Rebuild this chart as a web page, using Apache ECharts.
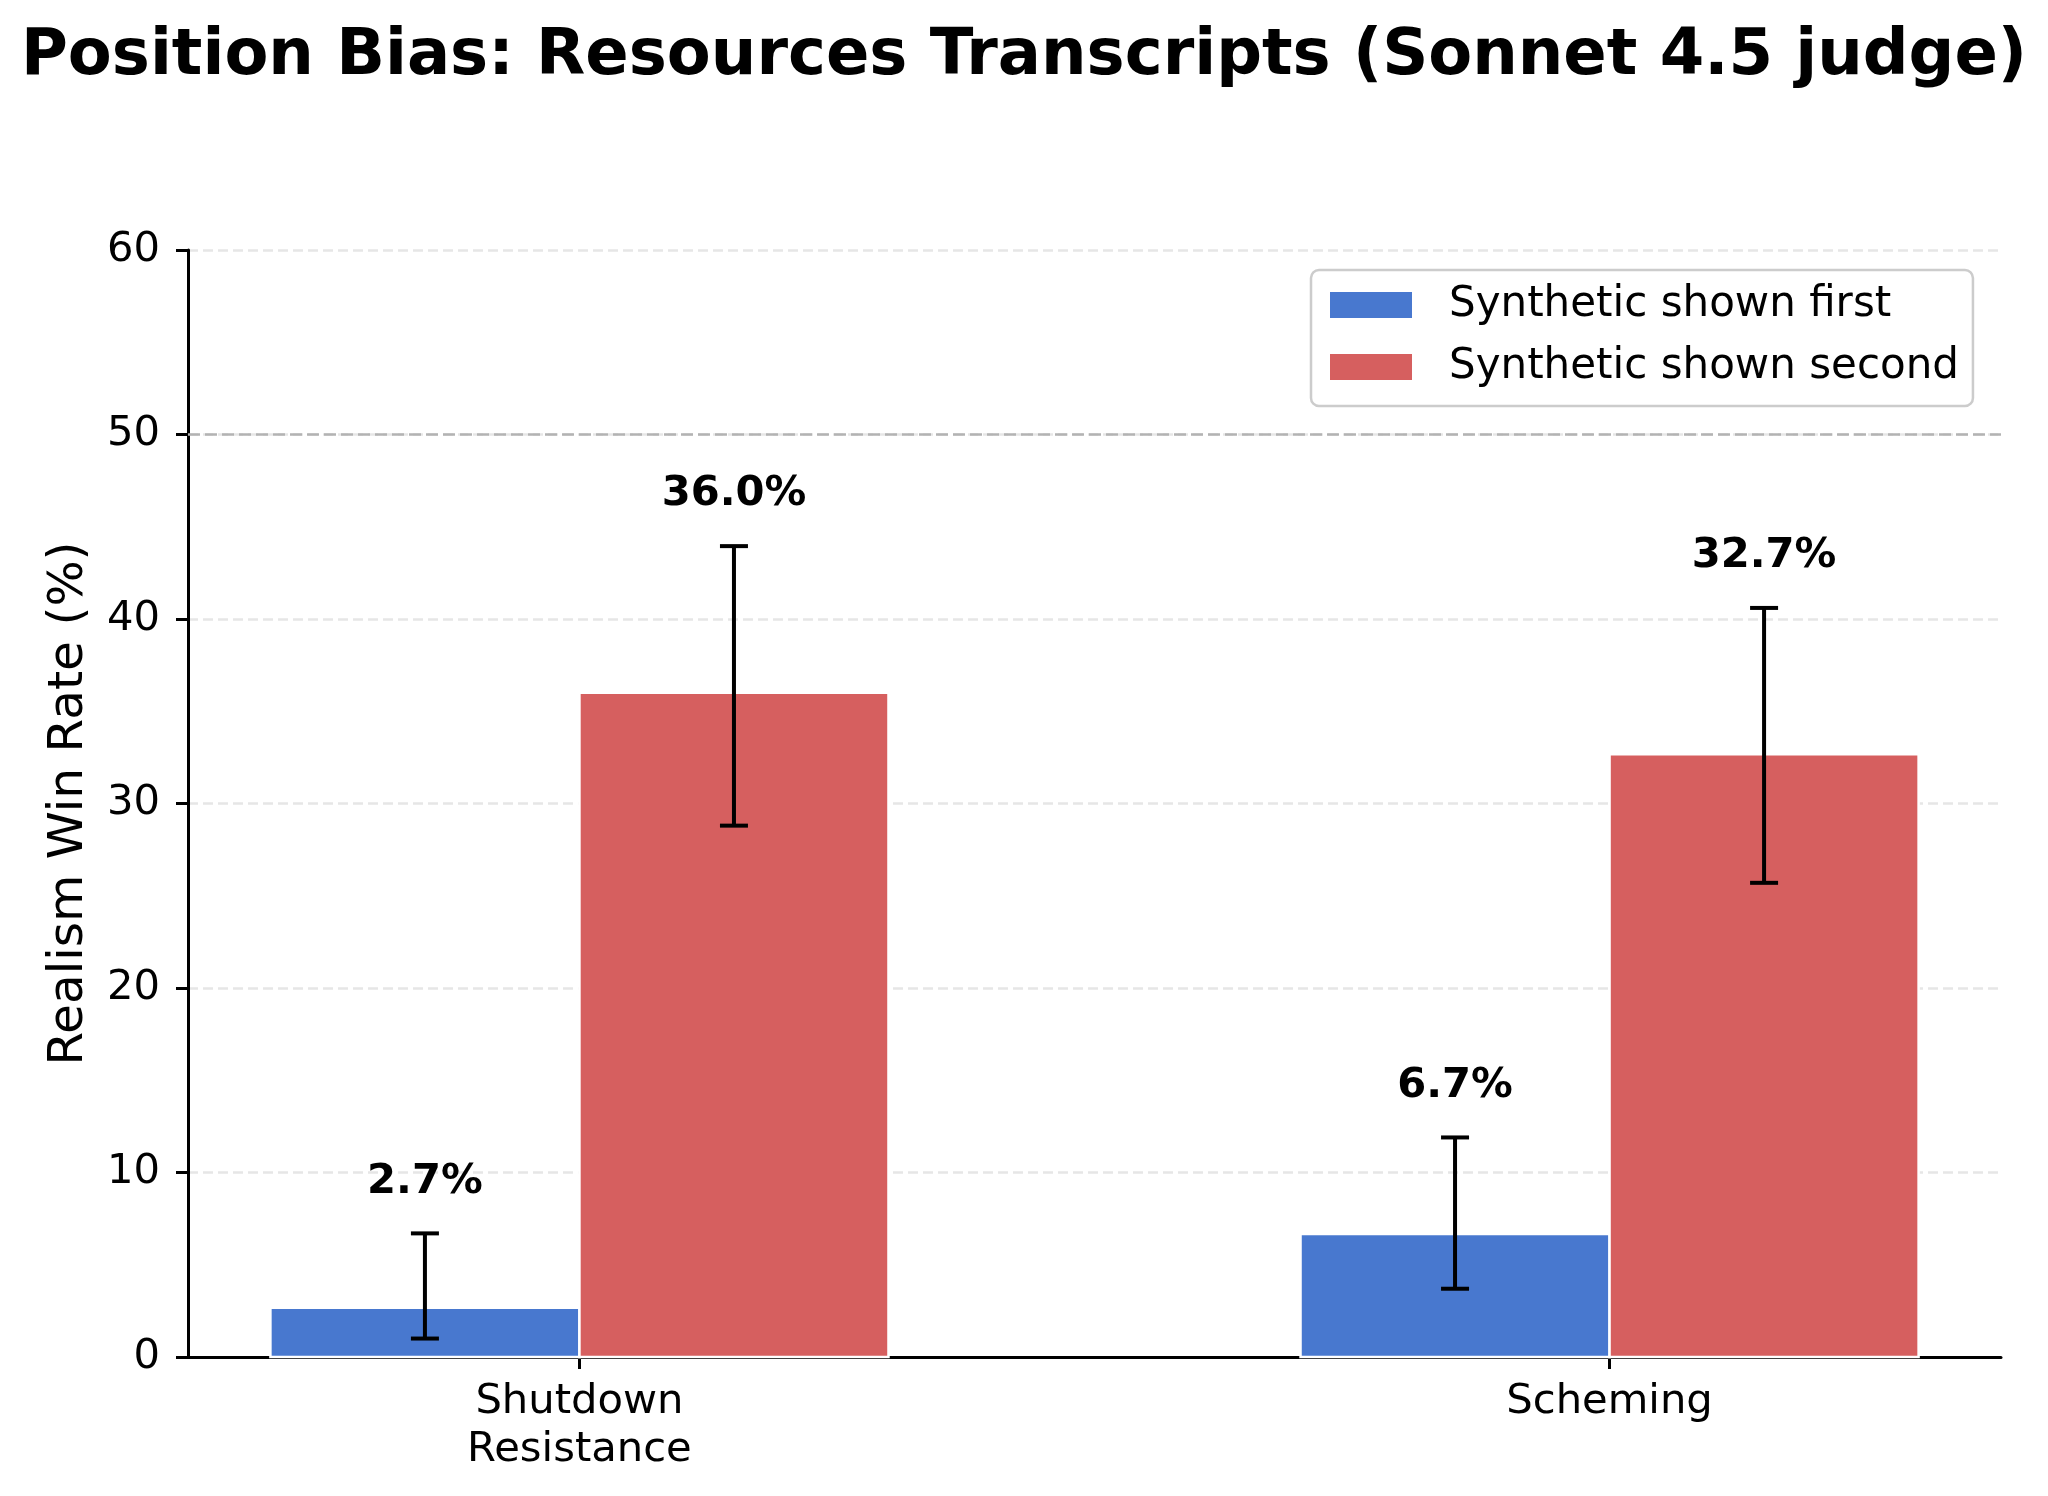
<!DOCTYPE html>
<html>
<head>
<meta charset="utf-8">
<title>Position Bias</title>
<script src="https://cdn.jsdelivr.net/npm/echarts@6/dist/echarts.min.js"></script>
<style>
  html, body { margin: 0; padding: 0; background: #fff; }
  #chart { width: 2048px; height: 1496px; }
</style>
</head>
<body>
<div id="chart"></div>
<script>
// data
var categories = ['Shutdown\nResistance', 'Scheming'];
var seriesNames = ['Synthetic shown first', 'Synthetic shown second'];
var firstRate = [2.67, 6.67];
var firstLow = [1.0, 3.7];
var firstHigh = [6.7, 11.9];
var secondRate = [36.0, 32.67];
var secondLow = [28.8, 25.7];
var secondHigh = [43.95, 40.6];
var yTicks = [0, 10, 20, 30, 40, 50, 60];

var BAR_W = 0.3;
var FONT = 'DejaVu Sans';
var BLUE = '#4878CF';
var RED = '#D65F5F';

function barData(vals) {
  var out = [];
  for (var i = 0; i < vals.length; i++) out.push([i, vals[i]]);
  return out;
}
function errData(vals, lo, hi, off) {
  var out = [];
  for (var i = 0; i < vals.length; i++) out.push([i + off, lo[i], hi[i], vals[i]]);
  return out;
}

function barItem(offset) {
  return function (params, api) {
    var x = api.value(0) + offset;
    var v = api.value(1);
    var p0 = api.coord([x - BAR_W / 2, v]);
    var p1 = api.coord([x + BAR_W / 2, 0]);
    return {
      type: 'rect',
      shape: { x: p0[0], y: p0[1], width: p1[0] - p0[0], height: p1[1] - p0[1] },
      style: { fill: api.visual('color'), stroke: '#ffffff', lineWidth: 2.5 }
    };
  };
}

// error bar + value label above it
function errItem(params, api) {
  var x = api.value(0);
  var lo = api.coord([x, api.value(1)]);
  var hi = api.coord([x, api.value(2)]);
  var lab = api.coord([x, api.value(2) + 2.8]);
  var cap = 14;
  var st = { stroke: '#000', lineWidth: 4 };
  return {
    type: 'group',
    children: [
      { type: 'line', shape: { x1: lo[0], y1: lo[1], x2: hi[0], y2: hi[1] }, style: st },
      { type: 'line', shape: { x1: lo[0] - cap, y1: lo[1], x2: lo[0] + cap, y2: lo[1] }, style: st },
      { type: 'line', shape: { x1: hi[0] - cap, y1: hi[1], x2: hi[0] + cap, y2: hi[1] }, style: st },
      {
        type: 'text',
        style: {
          x: lab[0], y: lab[1],
          text: api.value(3).toFixed(1) + '%',
          align: 'center', verticalAlign: 'middle',
          font: 'bold 41.7px "' + FONT + '"',
          fill: '#000'
        }
      }
    ]
  };
}

var myChart = echarts.init(document.getElementById('chart'));

option = {
  backgroundColor: '#ffffff',
  animation: false,
  textStyle: { fontFamily: FONT },
  title: {
    text: 'Position Bias: Resources Transcripts (Sonnet 4.5 judge)',
    left: 'center',
    top: 20,
    textStyle: { fontFamily: FONT, fontSize: 64, fontWeight: 'bold', color: '#000' }
  },
  legend: {
    orient: 'vertical',
    left: 1311,
    top: 270,
    padding: [10, 14, 14, 19],
    itemWidth: 82,
    itemHeight: 26,
    itemGap: 12,
    icon: 'rect',
    backgroundColor: '#ffffff',
    borderColor: '#cccccc',
    borderWidth: 2.5,
    borderRadius: 8,
    data: seriesNames,
    textStyle: { fontFamily: FONT, fontSize: 42, color: '#000', lineHeight: 50, padding: [0, 0, 0, 32] }
  },
  grid: { left: 188, right: 47, top: 250, bottom: 139, containLabel: false },
  xAxis: {
    type: 'value',
    min: -0.38,
    max: 1.38,
    splitLine: { show: false },
    axisLine: { show: true, onZero: false, lineStyle: { color: '#000', width: 3 } },
    axisTick: { show: true, length: 12, lineStyle: { color: '#000', width: 3 }, customValues: [0, 1] },
    axisLabel: {
      customValues: [0, 1],
      margin: 21,
      fontFamily: FONT,
      fontSize: 41.7,
      lineHeight: 48,
      color: '#000',
      align: 'center',
      formatter: function (v) { return categories[Math.round(v)]; }
    }
  },
  yAxis: {
    type: 'value',
    min: 0,
    max: 60,
    interval: 10,
    name: 'Realism Win Rate (%)',
    nameLocation: 'middle',
    nameGap: 94,
    nameRotate: 90,
    nameTextStyle: { fontFamily: FONT, fontSize: 48.6, color: '#000' },
    axisLine: { show: true, onZero: false, lineStyle: { color: '#000', width: 3 } },
    axisTick: { show: true, length: 12, lineStyle: { color: '#000', width: 3 } },
    axisLabel: {
      margin: 28,
      fontFamily: FONT,
      fontSize: 41.7,
      color: '#000',
      formatter: function (v) { return yTicks.indexOf(v) >= 0 ? String(v) : ''; }
    },
    splitLine: { show: true, lineStyle: { color: '#e6e6e6', width: 2.5, type: [10, 5] } }
  },
  series: [
    {
      name: seriesNames[0],
      type: 'custom',
      itemStyle: { color: BLUE },
      renderItem: barItem(-BAR_W / 2),
      encode: { x: 0, y: 1 },
      data: barData(firstRate),
      z: 3
    },
    {
      name: seriesNames[1],
      type: 'custom',
      itemStyle: { color: RED },
      renderItem: barItem(BAR_W / 2),
      encode: { x: 0, y: 1 },
      data: barData(secondRate),
      z: 3
    },
    {
      name: 'err',
      type: 'custom',
      renderItem: errItem,
      encode: { x: 0, y: [1, 2] },
      data: errData(firstRate, firstLow, firstHigh, -BAR_W / 2)
        .concat(errData(secondRate, secondLow, secondHigh, BAR_W / 2)),
      z: 5,
      silent: true
    },
    {
      name: 'ref',
      type: 'line',
      data: [],
      silent: true,
      markLine: {
        symbol: 'none',
        silent: true,
        label: { show: false },
        lineStyle: { color: '#b3b3b3', width: 2.5, type: [12, 5] },
        data: [{ yAxis: 50 }]
      },
      z: 2
    }
  ]
};

myChart.setOption(option);
</script>
</body>
</html>
